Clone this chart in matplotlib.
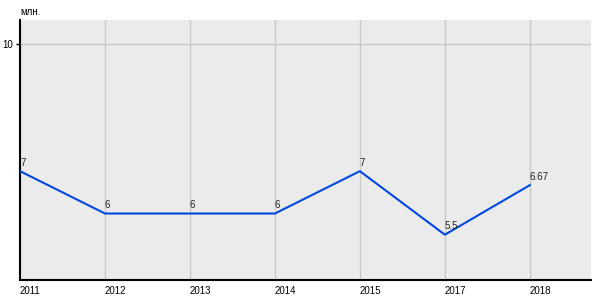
import matplotlib
matplotlib.use("Agg")
import matplotlib.pyplot as plt
import numpy as np

years = ['2011', '2012', '2013', '2014', '2015', '2017', '2018']
values = [7, 6, 6, 6, 7, 5.5, 6.67]
labels = ['7', '6', '6', '6', '7', '5.5', '6.67']

plt.rcParams['font.family'] = ['Liberation Sans', 'DejaVu Sans']

fig = plt.figure(figsize=(6, 3), dpi=100)
ax = fig.add_axes([20 / 600, 20 / 300, 571 / 600, 260 / 300])
ax.set_facecolor('#ebebeb')

x = np.arange(len(years))
ax.plot(x, values, color='#0048e0', lw=1.5, zorder=3)
for xi, v, lab in zip(x, values, labels):
    ax.text(xi, v + 0.08, lab, fontsize=7, ha='left', va='bottom', color='#222222')

ax.set_xlim(0, 6.72)
ax.set_ylim(4.43, 10.57)
ax.set_xticks(x)
ax.set_xticklabels(years, fontsize=7, ha='left')
ax.set_yticks([10])
ax.set_yticklabels(['10'], fontsize=7)
ax.grid(True, color='#c8c8c8', lw=1)
ax.set_axisbelow(True)
ax.tick_params(axis='x', length=0, pad=4)
ax.tick_params(axis='y', length=3, width=1, pad=2)
for s in ['top', 'right']:
    ax.spines[s].set_visible(False)
for s in ['left', 'bottom']:
    ax.spines[s].set_color('black')
    ax.spines[s].set_linewidth(1.5)

fig.text(20 / 600, 1 - 12 / 300, 'млн.', fontsize=7, ha='left', va='center')

plt.savefig('out.png', dpi=100)
